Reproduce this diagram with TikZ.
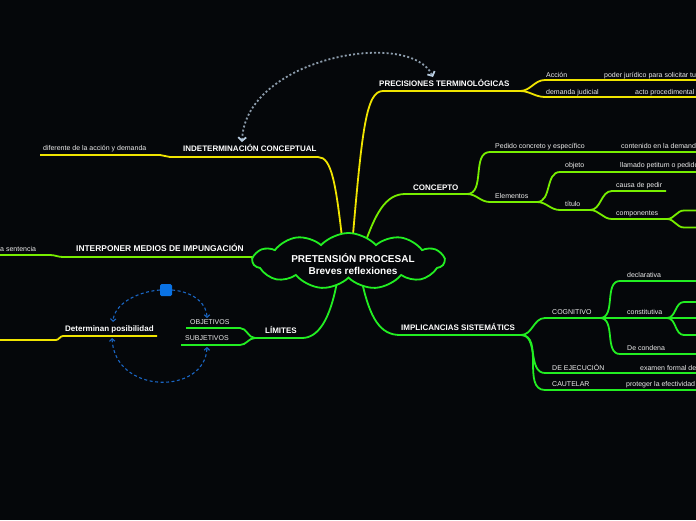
\documentclass[tikz,border=0pt]{standalone}
\usepackage{fontspec}
\setmainfont{Liberation Sans}
\usetikzlibrary{shapes.symbols,arrows.meta,backgrounds}

\definecolor{bgc}{HTML}{05070A}
\definecolor{yel}{HTML}{F0E400}
\definecolor{lgrn}{HTML}{77EE00}
\definecolor{grn}{HTML}{22EE22}
\definecolor{linkgrey}{HTML}{8C9CAC}
\definecolor{linkhead}{HTML}{B8CCE0}
\definecolor{relblue}{HTML}{1A66C4}
\definecolor{handlec}{HTML}{0A72E4}

\begin{document}
\begin{tikzpicture}[
	x=1pt, y=-1pt,
	central/.style={cloud, cloud puffs=11, cloud puff arc=95, cloud ignores aspect, draw=grn, fill=bgc, line width=1.8pt, minimum width=191pt, minimum height=56pt, inner sep=0pt},
	title/.style={align=center, inner sep=0pt, text=white, font=\bfseries\fontsize{10}{11.5}\selectfont},
	topic/.style={anchor=base west, inner sep=0pt, text=white, font=\bfseries\fontsize{8}{9}\selectfont},
	leaf/.style={anchor=base west, inner sep=0pt, text=white!85!gray, font=\fontsize{7}{8}\selectfont},
	yline/.style={draw=yel, line width=1.8pt},
	lline/.style={draw=lgrn, line width=1.8pt},
	gline/.style={draw=grn, line width=1.8pt},
	rt/.style={out=0, in=180},
	lt/.style={out=180, in=0},
	link/.style={draw=linkgrey, line width=1.8pt, dash pattern=on 2pt off 2.2pt, arrows={Straight Barb[color=linkhead,length=3.5pt,width=8pt]-Straight Barb[color=linkhead,length=3.5pt,width=8pt]}},
	rellink/.style={draw=relblue, line width=1.1pt, dash pattern=on 3pt off 2.5pt, >={Straight Barb[length=2.5pt,width=5.5pt]}},
	handle/.style={fill=handlec, rounded corners=1.5pt, minimum size=12pt, inner sep=0pt}
]
\useasboundingbox (0,0) rectangle (696,520);
\clip (0,0) rectangle (696,520);
\begin{scope}[on background layer]
  \fill[bgc] (0,0) rectangle (696,520);
\end{scope}

% --- Centre ---
\node[central] (root) at (348.5,261) {};
\node[title] (rootlbl) at (353,264) {PRETENSIÓN PROCESAL\\Breves reflexiones};

% --- Branch lines (start / end points) ---
\coordinate (r-prec) at (352,246); \coordinate (r-ind) at (343,246);
\coordinate (r-conc) at (364,246); \coordinate (r-int) at (262,257);
\coordinate (r-lim) at (337,282); \coordinate (r-imp) at (362,282);

\coordinate (prec-a) at (383,91);  \coordinate (prec-b) at (520,91);
\coordinate (acc-a) at (545,80);   \coordinate (acc-b) at (696,80);
\coordinate (dem-a) at (545,97);   \coordinate (dem-b) at (696,97);
\coordinate (ind-a) at (170,157);  \coordinate (ind-b) at (318,157);
\coordinate (dif-a) at (40,155);   \coordinate (dif-b) at (160,155);
\coordinate (det-a) at (63,336);   \coordinate (det-b) at (157,336);
\coordinate (dl-a) at (0,340);     \coordinate (dl-b) at (56,340);

\coordinate (conc-a) at (405,194); \coordinate (conc-b) at (467,194);
\coordinate (ped-a) at (490,152);  \coordinate (ped-b) at (696,152);
\coordinate (ele-a) at (490,202);  \coordinate (ele-b) at (537,202);
\coordinate (obj-a) at (560,172);  \coordinate (obj-b) at (696,172);
\coordinate (tit-a) at (560,210);  \coordinate (tit-b) at (590,210);
\coordinate (cau-a) at (612,191);  \coordinate (cau-b) at (666,191);
\coordinate (com-a) at (612,219);  \coordinate (com-b) at (667,219);
\coordinate (cm1-a) at (684,210.5); \coordinate (cm1-b) at (696,210.5);
\coordinate (cm2-a) at (684,227.5); \coordinate (cm2-b) at (696,227.5);
\coordinate (int-a) at (63,257);
\coordinate (sen-a) at (0,255);    \coordinate (sen-b) at (50,255);

\coordinate (lim-a) at (255,338);  \coordinate (lim-b) at (302,338);
\coordinate (obje-a) at (186,328); \coordinate (obje-b) at (240,328);
\coordinate (subj-a) at (181,345); \coordinate (subj-b) at (240,345);
\coordinate (imp-a) at (400,335);  \coordinate (imp-b) at (521,335);
\coordinate (cog-a) at (545,318);  \coordinate (cog-b) at (600,318);
\coordinate (dec-a) at (620,281);  \coordinate (dec-b) at (696,281);
\coordinate (cons-a) at (620,318); \coordinate (cons-b) at (667,318);
\coordinate (cs1-a) at (684,302);  \coordinate (cs1-b) at (696,302);
\coordinate (cs2-b) at (696,318);
\coordinate (cs3-a) at (684,335);  \coordinate (cs3-b) at (696,335);
\coordinate (cnd-a) at (620,354);  \coordinate (cnd-b) at (696,354);
\coordinate (eje-a) at (545,373);  \coordinate (eje-b) at (696,373);
\coordinate (cat-a) at (545,390);  \coordinate (cat-b) at (696,390);

% --- Main branches, behind the cloud ---
\begin{scope}[on background layer]
  \draw[yline] (r-prec) .. controls (362,130) and (366,91) .. (prec-a) -- (prec-b);
  \draw[yline] (r-ind) .. controls (336,185) and (332,157) .. (ind-b) -- (ind-a);
  \draw[lline] (r-conc) .. controls (375,215) and (385,194) .. (conc-a) -- (conc-b);
  \draw[lline] (r-int) -- (int-a);
  \draw[gline] (r-lim) .. controls (330,320) and (318,338) .. (lim-b) -- (lim-a);
  \draw[gline] (r-imp) .. controls (370,318) and (380,335) .. (imp-a) -- (imp-b);
\end{scope}

% --- Sub branches ---
\draw[yline] (prec-b) to[rt] (acc-a) -- (acc-b);
\draw[yline] (prec-b) to[rt] (dem-a) -- (dem-b);
\draw[yline] (ind-a) to[lt] (dif-b) -- (dif-a);
\draw[yline] (det-b) -- (det-a) to[lt] (dl-b) -- (dl-a);

\draw[lline] (conc-b) to[rt] (ped-a) -- (ped-b);
\draw[lline] (conc-b) to[rt] (ele-a) -- (ele-b);
\draw[lline] (ele-b) to[rt] (obj-a) -- (obj-b);
\draw[lline] (ele-b) to[rt] (tit-a) -- (tit-b);
\draw[lline] (tit-b) to[rt] (cau-a) -- (cau-b);
\draw[lline] (tit-b) to[rt] (com-a) -- (com-b);
\draw[lline] (com-b) to[rt] (cm1-a) -- (cm1-b);
\draw[lline] (com-b) to[rt] (cm2-a) -- (cm2-b);
\draw[lline] (int-a) to[lt] (sen-b) -- (sen-a);

\draw[gline] (lim-a) to[lt] (obje-b) -- (obje-a);
\draw[gline] (lim-a) to[lt] (subj-b) -- (subj-a);
\draw[gline] (imp-b) to[rt] (cog-a) -- (cog-b);
\draw[gline] (imp-b) to[rt] (eje-a) -- (eje-b);
\draw[gline] (imp-b) to[rt] (cat-a) -- (cat-b);
\draw[gline] (cog-b) to[rt] (dec-a) -- (dec-b);
\draw[gline] (cog-b) -- (cons-a) -- (cons-b);
\draw[gline] (cog-b) to[rt] (cnd-a) -- (cnd-b);
\draw[gline] (cons-b) to[rt] (cs1-a) -- (cs1-b);
\draw[gline] (cons-b) -- (cs2-b);
\draw[gline] (cons-b) to[rt] (cs3-a) -- (cs3-b);

% --- Labels ---
\node[topic] (prec) at (379,86) {PRECISIONES TERMINOLÓGICAS};
\node[leaf] (acc) at (546,77.5) {Acción};
\node[leaf] (pod) at (604,77.5) {poder jurídico para solicitar tutela};
\node[leaf] (dem) at (546,94.5) {demanda judicial};
\node[leaf] (acto) at (635,94.5) {acto procedimental};
\node[topic] (ind) at (183,151) {INDETERMINACIÓN CONCEPTUAL};
\node[leaf] (dif) at (43,150.5) {diferente de la acción y demanda};

\node[topic] (conc) at (413,190) {CONCEPTO};
\node[leaf] (ped) at (495,148.5) {Pedido concreto y específico};
\node[leaf] (cont) at (621,148.5) {contenido en la demanda};
\node[leaf] (ele) at (495,198.5) {Elementos};
\node[leaf] (obj) at (565,167.5) {objeto};
\node[leaf] (llam) at (620,167.5) {llamado petitum o pedido};
\node[leaf] (tit) at (565,206.5) {título};
\node[leaf] (cau) at (616,187.5) {causa de pedir};
\node[leaf] (com) at (616,215.5) {componentes};

\node[topic, font=\bfseries\fontsize{8.4}{9}\selectfont] (int) at (76,251.2) {INTERPONER MEDIOS DE IMPUNGACIÓN};
\node[leaf] (sen) at (0,251.5) {a sentencia};

\node[topic] (lim) at (265,333.6) {LÍMITES};
\node[leaf] (obje) at (190,324.2) {OBJETIVOS};
\node[leaf] (subj) at (185,340.8) {SUBJETIVOS};
\node[topic] (det) at (65,331.2) {Determinan posibilidad};

\node[topic] (imp) at (401,330.6) {IMPLICANCIAS SISTEMÁTICS};
\node[leaf] (cog) at (552,314.2) {COGNITIVO};
\node[leaf] (dec) at (627,277.5) {declarativa};
\node[leaf] (cons) at (627,314) {constitutiva};
\node[leaf] (cnd) at (627,350.8) {De condena};
\node[leaf] (eje) at (552,370.2) {DE EJECUCIÓN};
\node[leaf] (exa) at (640,370.2) {examen formal de};
\node[leaf] (cat) at (552,386.8) {CAUTELAR};
\node[leaf] (prot) at (626,386.8) {proteger la efectividad};

% --- Relations ---
\coordinate (ind-top) at (242,142);
\coordinate (prec-top) at (433,77);
\draw[link] (ind-top) .. controls (245,58) and (410,28) .. (prec-top);

\node[handle] (hdl) at (166,290) {};
\coordinate (det-top) at (113,322);
\coordinate (obje-top) at (207,318);
\coordinate (det-bot) at (112,338);
\coordinate (subj-bot) at (207,347);
\draw[rellink, ->] (hdl.west) .. controls (135,292) and (114,305) .. (det-top);
\draw[rellink, ->] (hdl.east) .. controls (195,292) and (207,305) .. (obje-top);
\draw[rellink, <->] (det-bot) .. controls (115,395) and (205,395) .. (subj-bot);

\end{tikzpicture}
\end{document}
